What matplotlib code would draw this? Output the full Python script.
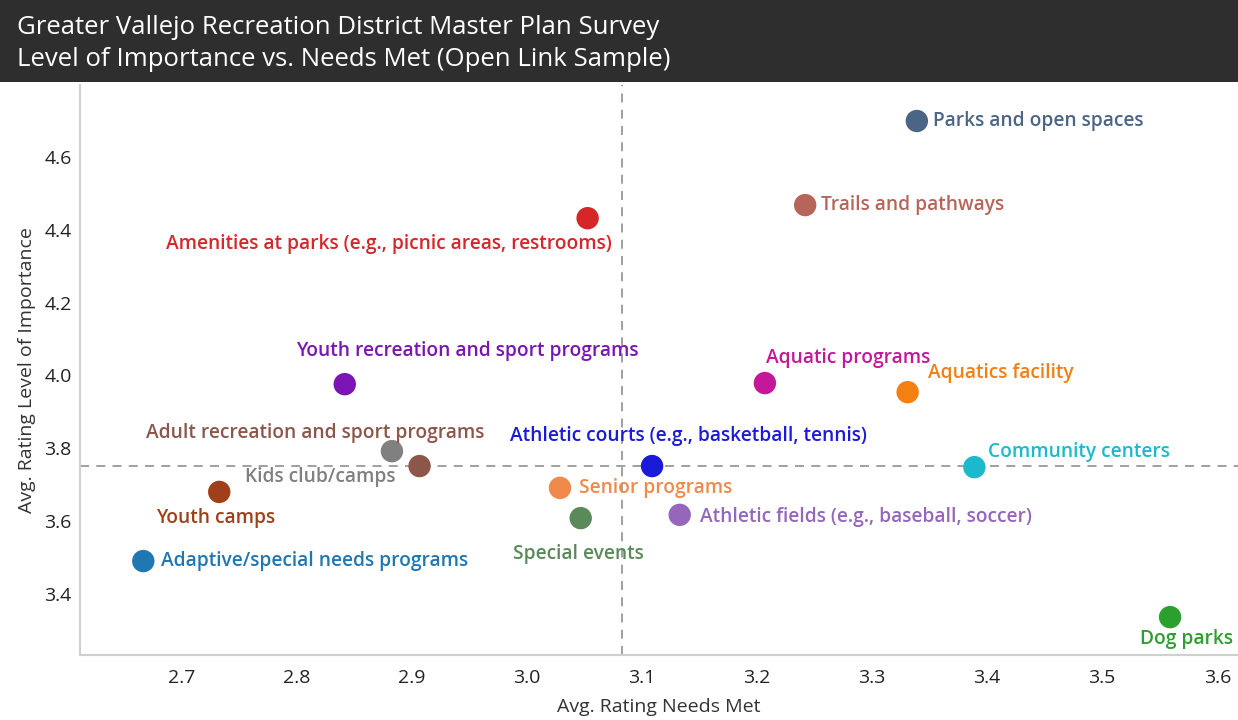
import matplotlib
matplotlib.use("Agg")
import matplotlib.pyplot as plt
from matplotlib.patches import Rectangle

plt.rcParams['font.family'] = ['Open Sans', 'DejaVu Sans']

# survey items
labels = ["Parks and open spaces", "Trails and pathways",
          "Amenities at parks (e.g., picnic areas, restrooms)",
          "Youth recreation and sport programs", "Aquatic programs",
          "Aquatics facility", "Kids club/camps",
          "Adult recreation and sport programs",
          "Athletic courts (e.g., basketball, tennis)", "Community centers",
          "Youth camps", "Senior programs", "Special events",
          "Athletic fields (e.g., baseball, soccer)",
          "Adaptive/special needs programs", "Dog parks"]
needs_met = [3.339, 3.242, 3.053, 2.842, 3.207, 3.331, 2.883, 2.907,
             3.109, 3.389, 2.733, 3.029, 3.047, 3.133, 2.667, 3.559]
importance = [4.699, 4.468, 4.432, 3.976, 3.979, 3.954, 3.792, 3.751,
              3.751, 3.748, 3.680, 3.691, 3.608, 3.617, 3.490, 3.336]
colors = ["#4a6585", "#b5655a", "#d62728", "#7b14b4", "#c5179a", "#f47f12",
          "#808080", "#8c564b", "#1a1adb", "#1cb9cc", "#a0401a", "#f08a4b",
          "#5a8a5a", "#9467bd", "#1f77b4", "#2ca02c"]
# label offsets in pixels and alignment
offsets = [(16, 0, 'left'), (16, 0, 'left'), (24, -26, 'right'),
           (-49, 33, 'left'), (1, 25, 'left'), (20, 19, 'left'),
           (4, -26, 'right'), (65, 33, 'right'), (-142, 30, 'left'),
           (14, 15, 'left'), (-4, -26, 'center'), (19, 0, 'left'),
           (-2, -36, 'center'), (20, -2, 'left'), (18, 0, 'left'),
           (16, -22, 'center')]

avg_needs = 3.083
avg_importance = 3.751

fig = plt.figure(figsize=(12.38, 7.2), dpi=100)
ax = fig.add_axes([0.0646, 0.0903, 0.9354, 0.7917])

fig.patches.append(Rectangle((0, 1 - 82 / 720), 1, 82 / 720, transform=fig.transFigure,
                             facecolor="#2e2e2e", edgecolor="none", zorder=0))
fig.text(17 / 1238, 1 - 27 / 720, "Greater Vallejo Recreation District Master Plan Survey",
         color="white", fontsize=18.5, va='center', ha='left')
fig.text(17 / 1238, 1 - 59 / 720, "Level of Importance vs. Needs Met (Open Link Sample)",
         color="white", fontsize=18.5, va='center', ha='left')

ax.axvline(avg_needs, color="#999999", linestyle=(0, (5, 4)), linewidth=1.3, zorder=1)
ax.axhline(avg_importance, color="#999999", linestyle=(0, (5, 4)), linewidth=1.3, zorder=1)

ax.scatter(needs_met, importance, s=260, c=colors, zorder=3, edgecolors='none')

for lab, x, y, c, (dx, dy, ha) in zip(labels, needs_met, importance, colors, offsets):
    ax.annotate(lab, (x, y), xytext=(dx, dy), textcoords='offset pixels',
                ha=ha, va='center', color=c, fontsize=13.8, fontweight='semibold', zorder=4)

ax.set_xlim(2.612, 3.618)
ax.set_ylim(3.232, 4.798)
ax.set_xticks([2.7, 2.8, 2.9, 3.0, 3.1, 3.2, 3.3, 3.4, 3.5, 3.6])
ax.set_yticks([3.4, 3.6, 3.8, 4.0, 4.2, 4.4, 4.6])
ax.tick_params(length=0, labelsize=14, colors="#222222")
ax.tick_params(axis='x', pad=10)
ax.tick_params(axis='y', pad=6)
for s in ['top', 'right']:
    ax.spines[s].set_visible(False)
for s in ['left', 'bottom']:
    ax.spines[s].set_color("#d0d0d0")
    ax.spines[s].set_linewidth(1.5)

ax.set_xlabel("Avg. Rating Needs Met", fontsize=14, color="#333333", labelpad=8)
ax.set_ylabel("Avg. Rating Level of Importance", fontsize=14, color="#333333", labelpad=6)

fig.savefig("out.png", dpi=100)
